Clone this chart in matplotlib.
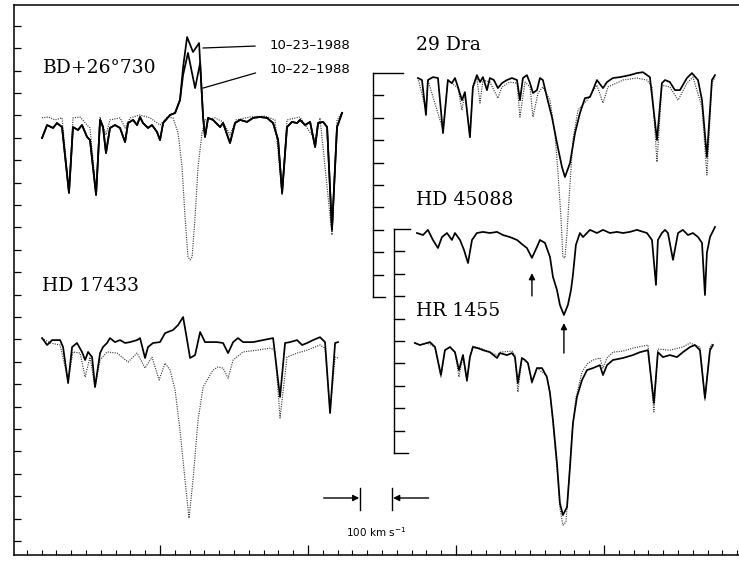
import numpy as np
import matplotlib.pyplot as plt
from matplotlib.ticker import MultipleLocator

# Spectra around H-alpha: wavelength offset from line centre (Angstrom) and normalised flux

# BD+26 730, shared part of both nights, blue and red of the emission core
bd_blue_wave = [-10.00, -9.66, -9.26, -8.99, -8.65, -8.18, -7.91, -7.57, -7.30, -6.96,
                -6.76, -6.35, -6.08, -5.88, -5.68, -5.41, -5.07, -4.73, -4.39, -4.19,
                -3.85, -3.58, -3.38, -3.18, -2.84, -2.57, -2.23, -2.03, -1.82, -1.35,
                -1.01, -0.68]
bd_blue_flux = [0.906, 0.964, 0.951, 0.973, 0.955, 0.661, 0.955, 0.942, 0.964, 0.911,
                0.897, 0.652, 0.987, 0.955, 0.839, 0.951, 0.964, 0.951, 0.888, 0.973,
                0.987, 0.964, 1.000, 0.973, 0.951, 0.964, 0.933, 0.897, 0.973, 1.009,
                1.018, 1.076]
bd_red_wave = [0.88, 1.01, 1.22, 1.55, 2.03, 2.23, 2.70, 3.04, 3.38, 3.85,
               4.26, 4.73, 5.20, 5.61, 5.95, 6.22, 6.55, 6.89, 7.23, 7.43,
               7.77, 8.11, 8.45, 8.65, 8.99, 9.26, 9.59, 9.93, 10.27]
bd_red_flux = [1.000, 0.911, 0.996, 0.987, 0.955, 0.973, 0.884, 0.973, 0.987, 0.978,
               0.996, 1.000, 0.996, 0.973, 0.897, 0.661, 0.955, 0.978, 0.973, 0.987,
               0.964, 0.978, 0.866, 0.973, 0.978, 0.955, 0.496, 0.955, 1.018]
bd23_peak_wave = [-0.47, -0.20, 0.20, 0.61]
bd23_peak_flux = [1.223, 1.357, 1.290, 1.330]
bd22_peak_wave = [-0.47, -0.14, 0.34, 0.68]
bd22_peak_flux = [1.188, 1.286, 1.129, 1.241]

# comparison (dotted) for BD+26 730
bdc_wave = [-10.00, -9.59, -9.12, -8.65, -8.18, -7.91, -7.43, -6.96, -6.76, -6.35,
            -6.08, -5.68, -5.41, -4.73, -4.39, -4.05, -3.38, -2.70, -2.03, -1.55,
            -1.15, -0.81, -0.54, -0.34, -0.14, 0.00, 0.14, 0.34, 0.54, 0.81,
            1.01, 1.69, 2.23, 2.70, 3.11, 4.05, 5.07, 5.74, 6.22, 6.55,
            7.43, 8.45, 8.78, 9.59, 9.93, 10.27]
bdc_flux = [0.996, 1.000, 0.987, 0.996, 0.674, 0.996, 1.000, 0.964, 0.951, 0.665,
            1.000, 0.920, 0.987, 0.996, 0.951, 0.996, 1.009, 0.996, 0.964, 1.000,
            0.996, 0.929, 0.777, 0.554, 0.375, 0.362, 0.375, 0.554, 0.777, 0.929,
            0.987, 0.996, 0.978, 0.920, 0.987, 1.000, 1.004, 0.987, 0.652, 0.987,
            1.000, 0.897, 0.996, 0.473, 0.987, 1.022]

# HD 17433
hd17_wave = [-10.00, -9.66, -9.32, -8.78, -8.58, -8.24, -7.97, -7.64, -7.30, -7.09,
             -6.89, -6.62, -6.42, -6.08, -5.88, -5.61, -5.41, -5.07, -4.73, -4.39,
             -4.05, -3.58, -3.38, -3.04, -2.84, -2.50, -2.03, -1.69, -1.15, -0.81,
             -0.47, -0.20, 0.00, 0.34, 0.68, 1.01, 1.35, 1.82, 2.23, 2.57,
             2.91, 3.24, 3.58, 4.26, 4.93, 5.61, 6.08, 6.42, 6.76, 7.23,
             7.57, 7.91, 8.31, 8.78, 9.12, 9.46, 9.80, 10.00]
hd17_flux = [1.000, 0.969, 0.991, 0.991, 0.960, 0.799, 0.960, 0.978, 0.938, 0.902,
             0.938, 0.915, 0.781, 0.933, 0.960, 0.978, 1.000, 0.982, 0.991, 0.978,
             0.982, 0.991, 1.000, 0.911, 0.960, 0.978, 0.982, 1.022, 1.036, 1.058,
             1.094, 0.991, 0.911, 0.924, 1.027, 0.982, 0.982, 0.982, 0.978, 0.933,
             0.982, 1.000, 0.982, 0.982, 0.991, 1.000, 0.737, 0.978, 0.982, 0.991,
             0.969, 0.978, 0.991, 1.004, 0.982, 0.665, 0.978, 0.982]
hd17c_wave = [-10.00, -9.46, -8.78, -8.24, -7.91, -7.43, -7.09, -6.76, -6.42, -6.08,
              -5.61, -4.93, -4.19, -3.58, -3.04, -2.57, -2.09, -1.69, -1.35, -1.01,
              -0.68, -0.34, -0.07, 0.20, 0.54, 0.88, 1.55, 1.89, 2.23, 2.57,
              2.91, 3.58, 4.53, 5.41, 5.74, 6.08, 6.55, 7.23, 7.91, 8.78,
              9.12, 9.46, 9.80, 10.00]
hd17c_flux = [1.000, 0.978, 0.969, 0.813, 0.938, 0.933, 0.826, 0.915, 0.781, 0.902,
              0.938, 0.933, 0.893, 0.933, 0.866, 0.915, 0.813, 0.888, 0.857, 0.768,
              0.589, 0.366, 0.196, 0.366, 0.634, 0.781, 0.857, 0.871, 0.866, 0.821,
              0.902, 0.938, 0.946, 0.955, 0.946, 0.643, 0.915, 0.933, 0.946, 0.969,
              0.955, 0.670, 0.915, 0.911]

# 29 Dra
dra_wave = [-9.93, -9.66, -9.39, -9.26, -8.92, -8.58, -8.24, -7.91, -7.64, -7.43,
            -7.23, -6.96, -6.76, -6.42, -6.22, -5.95, -5.74, -5.54, -5.27, -5.07,
            -4.80, -4.53, -4.26, -3.92, -3.58, -3.24, -3.04, -2.84, -2.57, -2.36,
            -2.16, -1.89, -1.69, -1.49, -1.22, -0.88, -0.54, -0.20, 0.00, 0.34,
            0.68, 1.01, 1.35, 1.69, 1.89, 2.16, 2.57, 2.84, 3.24, 3.72,
            4.39, 4.86, 5.27, 5.74, 6.22, 6.55, 6.76, 7.09, 7.43, 7.77,
            8.24, 8.58, 8.99, 9.26, 9.59, 9.93, 10.14]
dra_flux = [0.978, 0.969, 0.813, 0.969, 0.982, 0.978, 0.732, 0.969, 0.955, 0.978,
            0.938, 0.879, 0.915, 0.714, 0.938, 0.991, 0.960, 0.982, 0.924, 0.978,
            0.969, 0.933, 0.955, 0.969, 0.978, 0.969, 0.879, 0.978, 0.991, 0.955,
            0.911, 0.924, 0.978, 0.969, 0.893, 0.804, 0.688, 0.580, 0.536, 0.598,
            0.732, 0.821, 0.888, 0.893, 0.924, 0.969, 0.933, 0.960, 0.978, 0.982,
            0.991, 1.000, 1.004, 0.982, 0.701, 0.955, 0.969, 0.960, 0.924, 0.924,
            0.978, 1.000, 0.969, 0.879, 0.625, 0.969, 0.991]
drac_wave = [-9.93, -9.39, -9.26, -8.24, -7.91, -7.23, -6.96, -6.76, -6.42, -6.22,
             -5.95, -5.74, -5.54, -5.07, -4.53, -4.26, -3.72, -3.24, -3.04, -2.70,
             -2.36, -2.16, -1.82, -1.49, -1.01, -0.68, -0.47, -0.27, -0.14, 0.00,
             0.14, 0.27, 0.54, 0.88, 1.49, 2.16, 2.57, 2.91, 3.92, 4.86,
             5.54, 5.88, 6.22, 6.55, 7.09, 7.64, 8.24, 8.65, 9.26, 9.59,
             9.93, 10.14]
drac_flux = [0.978, 0.835, 0.969, 0.746, 0.969, 0.933, 0.835, 0.911, 0.714, 0.933,
             0.978, 0.866, 0.969, 0.960, 0.888, 0.938, 0.960, 0.955, 0.804, 0.960,
             0.938, 0.804, 0.911, 0.938, 0.879, 0.732, 0.554, 0.357, 0.179, 0.174,
             0.286, 0.433, 0.701, 0.835, 0.879, 0.946, 0.866, 0.938, 0.969, 0.978,
             0.969, 0.938, 0.603, 0.946, 0.938, 0.879, 0.955, 0.982, 0.848, 0.545,
             0.955, 0.982]

# HD 45088
hd45_wave = [-10.00, -9.59, -9.26, -8.92, -8.58, -8.31, -7.97, -7.64, -7.43, -7.09,
             -6.82, -6.55, -6.28, -5.95, -5.54, -5.07, -4.59, -4.19, -3.72, -3.24,
             -2.84, -2.57, -2.23, -1.89, -1.69, -1.35, -1.01, -0.81, -0.54, -0.34,
             -0.07, 0.20, 0.41, 0.54, 0.74, 1.01, 1.22, 1.69, 2.16, 2.57,
             3.04, 3.51, 3.92, 4.39, 4.86, 5.54, 5.88, 6.15, 6.28, 6.55,
             6.76, 6.96, 7.30, 7.64, 7.97, 8.31, 8.65, 8.99, 9.26, 9.46,
             9.59, 9.80, 10.14]
hd45_flux = [0.982, 0.973, 0.996, 0.951, 0.915, 0.964, 0.982, 0.951, 0.982, 0.951,
             0.906, 0.848, 0.951, 0.982, 0.987, 0.982, 0.987, 0.973, 0.964, 0.951,
             0.929, 0.915, 0.871, 0.920, 0.951, 0.938, 0.875, 0.786, 0.728, 0.661,
             0.616, 0.661, 0.728, 0.795, 0.929, 0.982, 0.964, 0.996, 0.982, 0.996,
             0.982, 0.987, 0.982, 0.987, 0.996, 0.982, 0.951, 0.750, 0.951, 0.982,
             0.996, 0.982, 0.862, 0.982, 0.996, 0.973, 0.982, 0.964, 0.938, 0.705,
             0.893, 0.964, 1.009]

# HR 1455
hr_wave = [-10.14, -9.80, -9.32, -9.12, -8.78, -8.38, -8.11, -7.77, -7.43, -7.16,
           -6.89, -6.62, -6.42, -6.22, -5.88, -5.54, -5.07, -4.59, -4.39, -3.92,
           -3.58, -3.38, -3.18, -2.91, -2.70, -2.50, -2.23, -1.89, -1.55, -1.22,
           -1.01, -0.81, -0.54, -0.34, -0.14, 0.14, 0.34, 0.54, 0.81, 1.15,
           1.49, 1.89, 2.36, 2.57, 2.84, 3.24, 3.92, 4.59, 5.07, 5.61,
           6.01, 6.28, 6.62, 7.09, 7.57, 7.97, 8.45, 8.78, 9.12, 9.46,
           9.80, 10.00]
hr_flux = [0.987, 0.978, 0.987, 0.991, 0.969, 0.844, 0.955, 0.969, 0.946, 0.866,
           0.933, 0.821, 0.924, 0.969, 0.964, 0.955, 0.946, 0.920, 0.942, 0.933,
           0.942, 0.924, 0.808, 0.920, 0.911, 0.897, 0.813, 0.875, 0.875, 0.835,
           0.763, 0.643, 0.451, 0.272, 0.219, 0.254, 0.433, 0.629, 0.746, 0.821,
           0.866, 0.875, 0.888, 0.844, 0.888, 0.911, 0.920, 0.933, 0.946, 0.955,
           0.719, 0.946, 0.924, 0.933, 0.924, 0.946, 0.969, 0.978, 0.955, 0.741,
           0.955, 0.978]
hrc_wave = [-10.14, -9.80, -9.32, -8.78, -8.38, -8.11, -7.77, -7.43, -7.16, -6.89,
            -6.62, -6.42, -6.22, -5.54, -4.59, -4.39, -3.58, -3.38, -3.18, -2.91,
            -2.50, -2.23, -1.89, -1.22, -1.01, -0.81, -0.54, -0.34, -0.14, 0.07,
            0.27, 0.47, 0.74, 1.15, 1.49, 1.89, 2.36, 2.57, 2.84, 3.24,
            3.92, 4.59, 5.61, 6.01, 6.28, 7.09, 7.97, 8.45, 9.12, 9.46,
            9.80, 10.00]
hrc_flux = [0.987, 0.978, 0.987, 0.969, 0.835, 0.955, 0.969, 0.946, 0.835, 0.933,
            0.813, 0.924, 0.973, 0.960, 0.933, 0.946, 0.951, 0.933, 0.768, 0.920,
            0.897, 0.808, 0.875, 0.840, 0.763, 0.629, 0.429, 0.250, 0.174, 0.188,
            0.375, 0.580, 0.741, 0.857, 0.893, 0.911, 0.920, 0.875, 0.920, 0.946,
            0.951, 0.964, 0.978, 0.679, 0.960, 0.955, 0.969, 0.987, 0.969, 0.732,
            0.969, 0.987]

# layout of the plate (x in Angstrom along the bottom scale, y in flux units)
HA_LEFT, HA_RIGHT = 12.03, 37.36
base = {'bd': 0.893, 'hd17': -0.094, 'dra': 1.089, 'hd45': 0.393, 'hr': -0.103}
serif = 'DejaVu Serif'

fig = plt.figure(figsize=(7.39, 5.64), dpi=100)
ax = fig.add_axes([14 / 739, 9 / 564, 725 / 739, 550 / 564])
ax.set_xlim(0.135, 49.12)
ax.set_ylim(-0.0625, 2.393)

solid = dict(color='black', lw=1.25, zorder=3)
dotted = dict(color='0.2', lw=0.85, ls=(0, (0.9, 1.1)), zorder=2)


def spec(w, f, x0, y0, style):
    ax.plot(x0 + np.asarray(w), y0 + np.asarray(f), **style)


spec(bdc_wave, bdc_flux, HA_LEFT, base['bd'], dotted)
spec(bd_blue_wave + bd22_peak_wave + bd_red_wave, bd_blue_flux + bd22_peak_flux + bd_red_flux,
     HA_LEFT, base['bd'], solid)
spec(bd_blue_wave + bd23_peak_wave + bd_red_wave, bd_blue_flux + bd23_peak_flux + bd_red_flux,
     HA_LEFT, base['bd'], solid)
spec(hd17c_wave, hd17c_flux, HA_LEFT, base['hd17'], dotted)
spec(hd17_wave, hd17_flux, HA_LEFT, base['hd17'], solid)
spec(drac_wave, drac_flux, HA_RIGHT, base['dra'], dotted)
spec(dra_wave, dra_flux, HA_RIGHT, base['dra'], solid)
spec(hd45_wave, hd45_flux, HA_RIGHT, base['hd45'], solid)
spec(hrc_wave, hrc_flux, HA_RIGHT, base['hr'], dotted)
spec(hr_wave, hr_flux, HA_RIGHT, base['hr'], solid)


# flux brackets for the right-hand column (0 to 1 in steps of 0.1)
def bracket(x, y0, top_len, bot_len, tick_len=0.68):
    ax.plot([x, x], [y0, y0 + 1], color='black', lw=1.0)
    for k in range(11):
        ln = top_len if k == 10 else bot_len if k == 0 else tick_len
        ax.plot([x, x + ln], [y0 + k * 0.1] * 2, color='black', lw=1.0)


bracket(24.39, base['dra'], 2.0, 0.8)
bracket(25.81, base['hd45'], 1.1, 0.95)

# labels
ax.text(2.09, 2.112, 'BD+26°730', family=serif, fontsize=13.5, va='center')
ax.text(2.02, 1.138, 'HD 17433', family=serif, fontsize=13.5, va='center')
ax.text(27.30, 2.214, '29 Dra', family=serif, fontsize=13.5, va='center')
ax.text(27.30, 1.522, 'HD 45088', family=serif, fontsize=13.5, va='center')
ax.text(27.30, 1.027, 'HR 1455', family=serif, fontsize=13.5, va='center')

lead = dict(arrowstyle='-', lw=0.9, color='black', shrinkA=8, shrinkB=0, relpos=(0, 0.5))
ax.annotate('10–23–1988', xy=(12.90, 2.201), xytext=(17.37, 2.212), va='center',
            fontsize=9.5, arrowprops=lead)
ax.annotate('10–22–1988', xy=(12.90, 2.022), xytext=(17.37, 2.107), va='center',
            fontsize=9.5, arrowprops=lead)

# arrows marking features in HD 45088
up = dict(arrowstyle='-|>', lw=1.0, color='black', mutation_scale=9, shrinkA=0, shrinkB=0)
ax.annotate('', xy=(HA_RIGHT - 2.23, 1.196), xytext=(HA_RIGHT - 2.23, 1.094), arrowprops=up)
ax.annotate('', xy=(HA_RIGHT - 0.07, 0.973), xytext=(HA_RIGHT - 0.07, 0.839), arrowprops=up)

# 100 km/s scale bar
bar_w = 6562.8 * 100 / 299792.458
bar_x, bar_y = 23.51, 0.192
for xb in (bar_x, bar_x + bar_w):
    ax.plot([xb, xb], [bar_y - 0.054, bar_y + 0.045], color='black', lw=1.0)
ax.annotate('', xy=(bar_x - 0.05, bar_y), xytext=(bar_x - 2.45, bar_y), arrowprops=up)
ax.annotate('', xy=(bar_x + bar_w + 0.05, bar_y), xytext=(bar_x + bar_w + 2.45, bar_y),
            arrowprops=up)
ax.text(bar_x + bar_w / 2, 0.04, '100 km s$^{-1}$', fontsize=7.5, ha='center', va='center')

# axes frame and ticks
ax.spines['right'].set_visible(False)
for s in ('left', 'bottom', 'top'):
    ax.spines[s].set_linewidth(1.1)
ax.xaxis.set_major_locator(MultipleLocator(10))
ax.xaxis.set_minor_locator(MultipleLocator(1))
ax.yaxis.set_major_locator(MultipleLocator(0.1))
ax.tick_params(axis='x', which='major', direction='in', length=7, width=0.9, labelbottom=False)
ax.tick_params(axis='x', which='minor', direction='in', length=3.5, width=0.8)
ax.tick_params(axis='y', direction='in', length=5, width=0.9, labelleft=False)

fig.savefig('out.png', dpi=100)
